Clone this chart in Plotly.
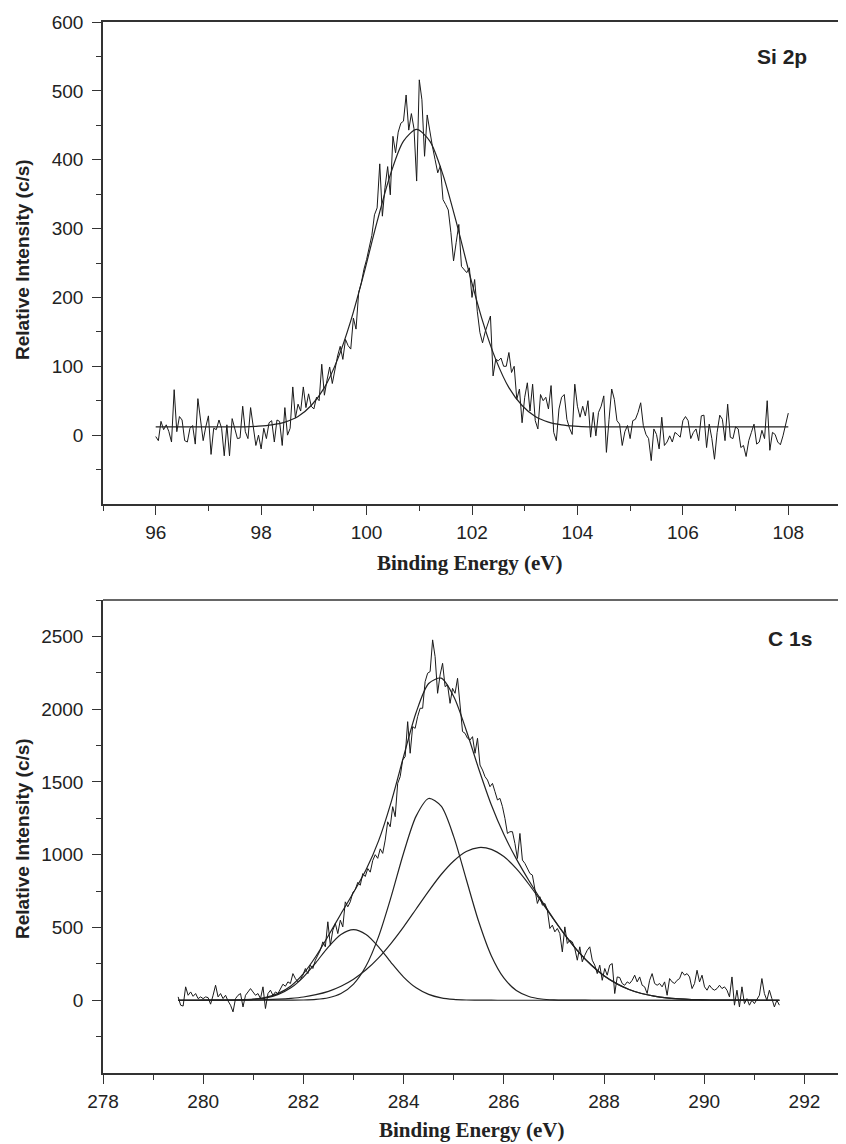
import numpy as np
import plotly.graph_objects as go

# ---------------- Si 2p data ----------------
si_counts = [
    -2, -8, 20, 8, 15, 5, -10, 66, 5, 27, 22, -8, -10, 10, 14, -13, 53, 25, -8, 12,
    28, -28, 10, 8, 22, 10, -30, 15, -30, 24, 10, -5, -4, 42, 5, -5, 40, 10, -15, 0,
    -20, 10, -5, 18, 21, -10, 22, 20, -15, 40, 0,
    10, 70, 25, 45, 35, 70, 40, 60, 42, 38, 55, 50, 103, 58, 80, 99, 75, 95, 115, 129,
    110, 139, 130,
    125, 170, 154, 207, 221, 241, 255, 274, 290, 320, 330, 394, 318, 360, 390, 349, 434,
    410, 440, 453, 456, 494, 443, 467, 445, 369, 516, 487, 405, 465, 440, 419, 400, 381,
    391, 342, 335, 327, 294, 253, 280, 306, 245, 240, 236, 243, 200, 226, 180, 149, 134,
    150, 160, 173, 86, 110, 108, 112, 100, 100, 120, 91, 100,
    52, 67, 18, 55, 76, 35, 74, 21, 9, 59, 50, 55, 38, 72, 4, -8, 38, 55, 59, 23, 10,
    1, 74, 42, 26, 42, 28, 50, -3, 33, -1, 33, 42, 57, -25, 23, 67, 52, 21, 16, -15, 5,
    14, -5, 21, 23, 33, 47, 14, 1, -5, -37, 9, 1, -20, 26, -15, -10, -1, -10, 4, 1, -3,
    21, 27, 21, -5, 4, 9, -8, 28, 29, -18, 16, -5, -35, 4, 29, 23, -8, 45, -3, -5, 12,
    9, -18, -15, -31, -8, 4, 16, -13, -10, 7, -5, 50, -22, 4, 1, -10, -14, -1, 14, 32,
]
si_energy = np.linspace(96, 108, len(si_counts))

si_fit_energy = [96.0, 97.45, 97.7, 97.95, 98.2, 98.45, 98.7, 98.95, 99.2, 99.45, 99.7,
                 99.95, 100.2, 100.45, 100.7, 100.95, 101.2, 101.45, 101.7, 101.95,
                 102.2, 102.45, 102.7, 102.95, 103.2, 103.45, 103.7, 103.95, 104.2,
                 104.45, 108.0]
si_fit_counts = [12, 12, 12, 13, 15, 19, 27, 43, 69, 110, 166, 235, 310, 378, 427, 444,
                 427, 378, 310, 235, 166, 110, 69, 43, 27, 19, 15, 13, 12, 12, 12]

# ---------------- C 1s data ----------------
c1s_counts = [
    23, -34, -40, 92, 34, 57, 27, 46, 11, 23, 11, 23, 18, -27, 34, 103, 23, 46, 11, 34,
    -5, -34, -80, 11, 34, 46, -46, 34, 57, 80, 57, 34, 46, 11, 92, -57, 46, 69, 34, 57,
    46, 80, 110, 96, 126, 115, 183, 149, 126, 142, 172, 218, 183, 241, 218, 275, 309,
    344, 401, 367, 539, 378, 481, 527, 458, 550, 504, 676, 642, 676, 740,
    760, 810, 790, 870, 850, 905, 880, 960, 1000, 975, 1040,
    1009, 1100, 1226, 1192, 1330, 1261, 1490, 1536, 1651, 1674, 1914, 1697, 1880, 1868,
    1949, 2006, 2006, 2189, 2247, 2258, 2476, 2361, 2109, 2235, 2315, 2155, 2166, 2040,
    2143, 2109, 2212, 2052, 1846, 1834, 1800, 1788, 1811, 1697, 1800, 1616, 1582, 1536,
    1513, 1467, 1490, 1433, 1376, 1387, 1330, 1249, 1146, 1158, 1158, 1077, 974, 1146,
    963, 940, 906, 871, 860, 757, 665, 711, 653, 665, 619,
    493, 516, 470, 493, 458, 332, 504, 390, 412, 401, 355, 275, 367, 264, 309, 344, 367,
    275, 241, 183, 241, 137, 218, 172, 241, 252, 46, 160, 156, 115, 103, 126, 115, 137,
    172, 126, 160, 103, 92, 46, 137, 183, 115, 103, 115, 92, 126, 34, 149, 126, 115, 137,
    149, 195, 172, 183, 160, 80, 115, 206, 126, 172, 92, 69, 103, 80, 69, 80, 103, 80,
    92, 69, 23, 160, -34, 69, -46, 92, -23, 11, -34, 0, -23, 11, 34, 149, 46, 0, 69, 11,
    -46, 0, -34,
]
c1s_energy = np.linspace(279.5, 291.5, len(c1s_counts))

c1s_fit_energy = np.arange(279.5, 291.51, 0.25)
c1s_envelope = [0, 0, 0.1, 0.3, 1, 2.6, 7.5, 19.7, 47, 98, 182.5, 302, 445, 594, 740, 896,
                1095, 1360, 1675, 1977, 2176, 2213, 2087, 1855, 1589, 1343, 1140, 971, 823,
                686, 556, 436, 329, 240, 168, 114, 74, 46, 28, 16, 9, 4.8, 2.5, 1.2, 0.6,
                0.3, 0.1, 0, 0]
c1s_peak1 = [0, 0, 0, 0.1, 0.5, 1.7, 5.6, 16, 40, 85, 159, 259, 367, 452, 485, 452, 367,
             259, 159, 85, 40, 16, 5.6, 1.7, 0.5, 0.1] + [0] * 23
c1s_peak2 = [0] * 8 + [0.1, 0.4, 1.5, 5.4, 17, 46, 111, 235, 437, 710, 1012, 1265, 1386,
                       1333, 1124, 831, 539, 306, 153, 67, 26, 8.6, 2.5, 0.65, 0.15] + [0] * 16
c1s_peak3 = [0, 0, 0.1, 0.2, 0.45, 0.9, 1.9, 3.7, 7, 12.8, 22, 38, 61, 96, 144, 209, 291,
             391, 504, 627, 750, 864, 957, 1022, 1049, 1037, 987, 904, 797, 677, 553, 435,
             329, 240, 168, 114, 74, 46, 28, 16, 9, 4.8, 2.5, 1.2, 0.6, 0.3, 0.1, 0, 0]

# ---------------- ticks ----------------
si_x_major = [96, 98, 100, 102, 104, 106, 108]
si_x_minor = [95, 97, 99, 101, 103, 105, 107, 109]
si_y_major = [0, 100, 200, 300, 400, 500, 600]
si_y_minor = [-50, 50, 150, 250, 350, 450, 550]
c_x_major = [278, 280, 282, 284, 286, 288, 290, 292]
c_x_minor = [279, 281, 283, 285, 287, 289, 291]
c_y_major = [0, 500, 1000, 1500, 2000, 2500]
c_y_minor = [-250, 250, 750, 1250, 1750, 2250, 2750]

# the page body adds an 8 px margin, so the figure is laid out 8 px smaller
OFF = 8
W, H = 846 - OFF, 1144 - OFF
INK = "#1a1a1a"
AX = "#333333"
SANS = "Liberation Sans, Arial, sans-serif"
SERIF = "Liberation Serif, Times New Roman, serif"


def px_x(t):
    return (t - OFF) / W


def px_y(t):
    return 1 - (t - OFF) / H


fig = go.Figure()
line_data = dict(color=INK, width=1)
line_fit = dict(color="#222222", width=1.2, shape="spline", smoothing=0.8)

fig.add_trace(go.Scatter(x=si_energy, y=si_counts, mode="lines", line=line_data,
                         xaxis="x", yaxis="y"))
fig.add_trace(go.Scatter(x=si_fit_energy, y=si_fit_counts, mode="lines", line=line_fit,
                         xaxis="x", yaxis="y"))

for comp in (c1s_peak1, c1s_peak2, c1s_peak3, c1s_envelope):
    fig.add_trace(go.Scatter(x=c1s_fit_energy, y=comp, mode="lines", line=line_fit,
                             xaxis="x2", yaxis="y2"))
fig.add_trace(go.Scatter(x=c1s_energy, y=c1s_counts, mode="lines", line=line_data,
                         xaxis="x2", yaxis="y2"))


def axis_common(major, minor, fsize, **kw):
    d = dict(
        automargin=False,
        tickmode="array", tickvals=major, ticks="outside", ticklen=9, tickwidth=1.2,
        tickcolor=AX,
        minor=dict(tickmode="array", tickvals=minor, ticks="outside", ticklen=5,
                   tickwidth=1.2, tickcolor=AX),
        showline=True, linecolor=AX, linewidth=1.5,
        showgrid=False, zeroline=False,
        tickfont=dict(family=SANS, size=fsize, color="#222"),
    )
    d.update(kw)
    return d


fig.update_layout(
    template="none",
    width=W, height=H,
    margin=dict(l=0, r=0, t=0, b=0, autoexpand=False),
    paper_bgcolor="white", plot_bgcolor="white",
    showlegend=False,
    xaxis=axis_common(si_x_major, si_x_minor, 19, domain=[px_x(103), px_x(841)], anchor="y",
                      range=[95, 109], mirror=True, ticklabelstandoff=1),
    yaxis=axis_common(si_y_major, si_y_minor, 19, domain=[px_y(504), px_y(22)],
                      anchor="x", range=[-100, 600], mirror=True, ticklabelstandoff=5),
    xaxis2=axis_common(c_x_major, c_x_minor, 19, domain=[px_x(103), 1.0], anchor="y2",
                       range=[278, 292.83], mirror=False, ticklabelstandoff=1),
    yaxis2=axis_common(c_y_major, c_y_minor, 19, domain=[px_y(1073), px_y(600)],
                       anchor="x2", range=[-500, 2750], mirror=False, ticklabelstandoff=5),
)

# top border of lower panel (no right border visible)
fig.add_shape(type="line", xref="x2 domain", yref="y2 domain", x0=0, x1=1, y0=1, y1=1,
              line=dict(color=AX, width=1.5))

ytitle = "<b>Relative Intensity (c/s)</b>"
xtitle = "<b>Binding Energy (eV)</b>"
ann = []
ann.append(dict(x=px_x(22), y=px_y(260), xref="paper", yref="paper", text=ytitle,
                textangle=-90, showarrow=False, xanchor="center", yanchor="middle",
                font=dict(family=SANS, size=19, color="#222")))
ann.append(dict(x=px_x(22), y=px_y(839), xref="paper", yref="paper", text=ytitle,
                textangle=-90, showarrow=False, xanchor="center", yanchor="middle",
                font=dict(family=SANS, size=19, color="#222")))
ann.append(dict(x=px_x(470), y=px_y(563), xref="paper", yref="paper", text=xtitle,
                showarrow=False, xanchor="center", yanchor="middle",
                font=dict(family=SERIF, size=21, color="#222")))
ann.append(dict(x=px_x(472), y=px_y(1130), xref="paper", yref="paper", text=xtitle,
                showarrow=False, xanchor="center", yanchor="middle",
                font=dict(family=SERIF, size=21, color="#222")))
ann.append(dict(x=px_x(782), y=px_y(57), xref="paper", yref="paper", text="<b>Si 2p</b>",
                showarrow=False, xanchor="center", yanchor="middle",
                font=dict(family=SANS, size=21, color="#222")))
ann.append(dict(x=px_x(790), y=px_y(638), xref="paper", yref="paper", text="<b>C 1s</b>",
                showarrow=False, xanchor="center", yanchor="middle",
                font=dict(family=SANS, size=21, color="#222")))
fig.update_layout(annotations=ann)

fig.write_html("out.html")
